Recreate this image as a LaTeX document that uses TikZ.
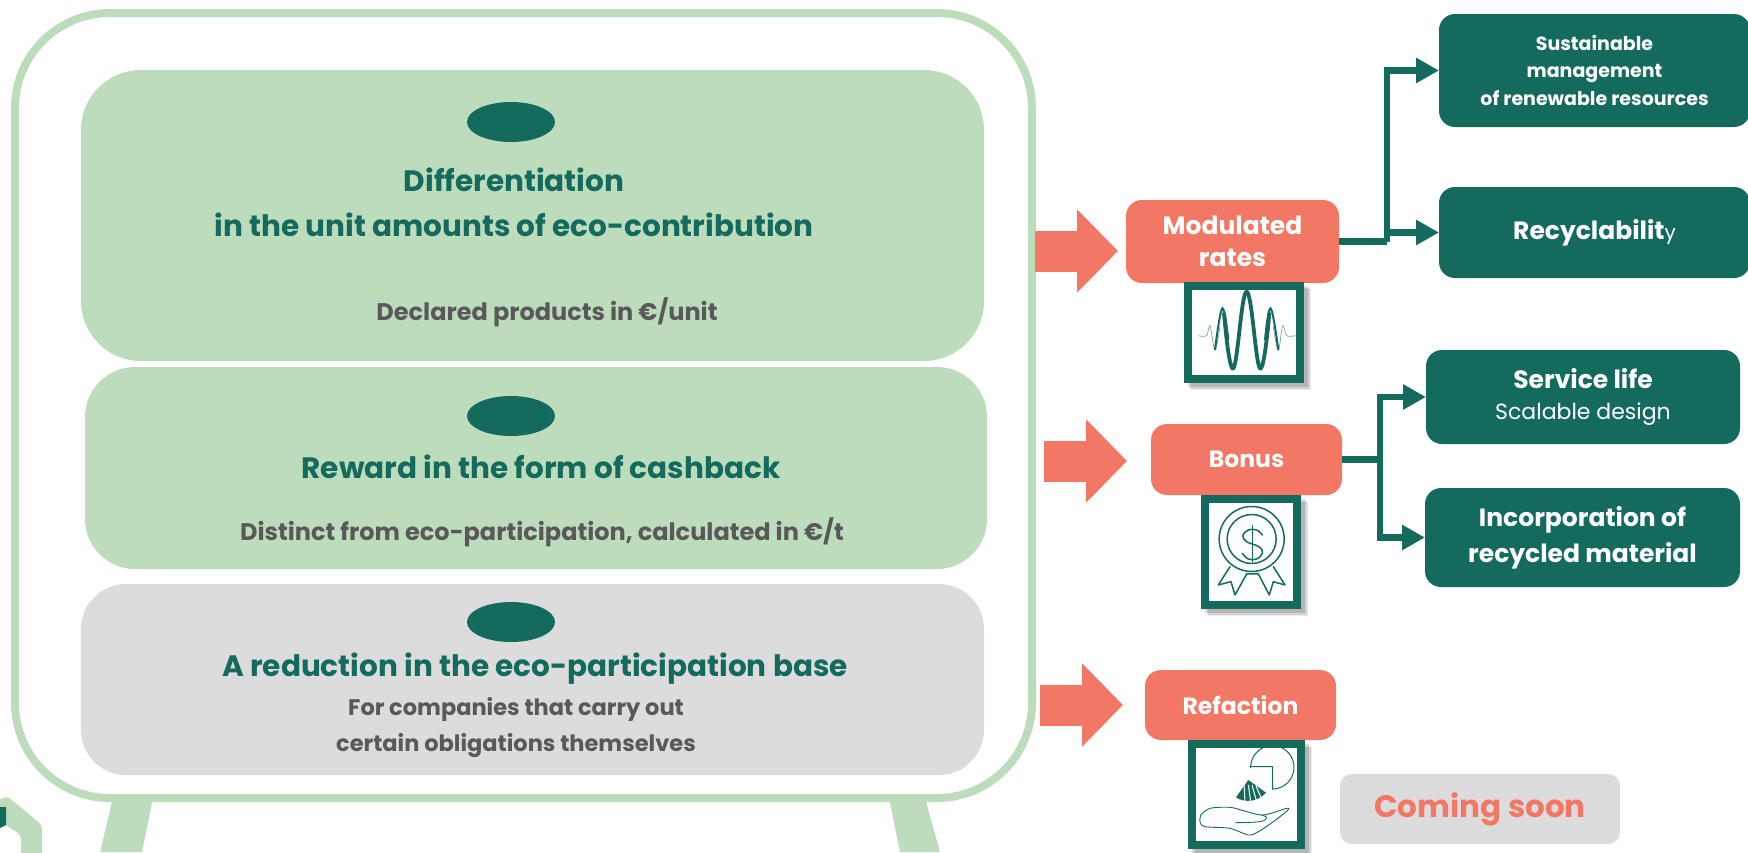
\documentclass[tikz,border=0pt]{standalone}
\usepackage{fontspec}
\setmainfont{Poppins}
\usetikzlibrary{arrows.meta}
\definecolor{teal1}{HTML}{156A5E}
\definecolor{green1}{HTML}{BDDCBC}
\definecolor{gray1}{HTML}{DCDCDC}
\definecolor{orange1}{HTML}{F27765}
\definecolor{txtgray}{HTML}{595959}
\newcommand{\fs}[1]{\fontsize{#1}{#1}\selectfont}
\tikzset{
  box/.style={inner sep=0pt,outer sep=0pt,align=center},
  panelgreen/.style={box,fill=green1},
  panelgray/.style={box,fill=gray1},
  framebox/.style={box,draw=green1,line width=8pt,fill=white,rounded corners=95pt},
  dot/.style={ellipse,fill=teal1,inner sep=0pt,minimum width=88pt,minimum height=40pt},
  head/.style={box,text=teal1,font=\bfseries\fs{29.5}},
  sub/.style={box,text=txtgray,font=\bfseries\fs{24}},
  obox/.style={box,fill=orange1,rounded corners=16pt,text=white,font=\bfseries\fs{23.5}},
  tbox/.style={box,fill=teal1,rounded corners=16pt,text=white,font=\bfseries\fs{23.5}},
  iconbox/.style={box,fill=white,draw=teal1,line width=8pt},
  bigarrow/.style={draw=orange1,line width=41pt,-{Triangle[length=41pt,width=81pt]}},
  conn/.style={draw=teal1,line width=6.5pt,-{Triangle[length=23pt,width=24pt]}},
  connplain/.style={draw=teal1,line width=6.5pt},
  icon/.style={draw=teal1,line width=1.6pt,line join=round,line cap=round},
}
\begin{document}
\begin{tikzpicture}[x=1pt,y=-1pt]
\useasboundingbox (0,0) rectangle (1748,852);
\clip (0,0) rectangle (1748,852);
\fill[white] (0,0) rectangle (1748,852);
% legs
\fill[green1] (113,798) -- (153,798) -- (142,852) -- (100,852) -- cycle;
\fill[green1] (889,798) -- (925,798) -- (940,852) -- (900,852) -- cycle;
% corner decoration
\fill[green1,rounded corners=4pt] (-10,805) -- (7,796) -- (42,825) -- (42,860) -- (21,860) -- (21,835) -- (-10,815) -- cycle;
\fill[teal1] (0,807) -- (6,807) -- (6,825) -- (0,828) -- cycle;
% frame and panels
\node[framebox,minimum width=1017pt,minimum height=785pt] (frame) at (523.5,405.5) {};
\node[panelgreen,rounded corners=60pt,minimum width=903pt,minimum height=291pt] (p1) at (532.5,215.5) {};
\node[panelgreen,rounded corners=50pt,minimum width=902pt,minimum height=202pt] (p2) at (536,468) {};
\node[panelgray,rounded corners=45pt,minimum width=903pt,minimum height=191pt] (p3) at (532.5,679.5) {};
\fill[teal1] (511,122) ellipse [x radius=44pt,y radius=20pt];
\fill[teal1] (511,416) ellipse [x radius=44pt,y radius=20pt];
\fill[teal1] (511,622) ellipse [x radius=44pt,y radius=20pt];
% panel text
\node[head] (t1a) at (514,180) {Differentiation};
\node[head] (t1b) at (514,225) {in the unit amounts of eco-contribution};
\node[sub] (t1c) at (547,312) {Declared products in €/unit};
\node[head] (t2a) at (541,467) {Reward in the form of cashback};
\node[sub] (t2b) at (542,532) {Distinct from eco-participation, calculated in €/t};
\node[head] (t3a) at (535,669) {A reduction in the eco-participation base};
\node[sub,font=\bfseries\fs{22.5}] (t3b) at (516,709) {For companies that carry out};
\node[sub,font=\bfseries\fs{22.5}] (t3c) at (516,746) {certain obligations themselves};
% orange boxes
\node[obox,minimum width=213pt,minimum height=83pt,font=\bfseries\fs{25},align=center] (mod) at (1232.5,241.5) {Modulated\\[7pt]rates};
\node[obox,minimum width=191pt,minimum height=71pt] (bon) at (1246.5,459.5) {Bonus};
\node[obox,minimum width=191pt,minimum height=70pt] (ref) at (1240.5,705) {Refaction};
\node[box,fill=gray1,rounded corners=12pt,minimum width=280pt,minimum height=70pt,text=orange1,font=\bfseries\fs{31}] (soon) at (1480,809) {Coming soon};
% teal boxes
\node[tbox,minimum width=311pt,minimum height=113pt,font=\bfseries\fs{19}] (sus) at (1594.5,70.5) {Sustainable\\[8pt]management\\[7pt]of renewable resources};
\node[tbox,minimum width=311pt,minimum height=91pt,font=\bfseries\fs{25}] (rec) at (1594.5,232.5) {Recyclabilit{\mdseries\fs{20}y}};
\node[tbox,minimum width=314pt,minimum height=94pt,font=\bfseries\fs{25}] (svc) at (1583,397) {Service life\\[6pt]{\mdseries\fs{22}Scalable design}};
\node[tbox,minimum width=315pt,minimum height=99pt,font=\bfseries\fs{25}] (inc) at (1582.5,537.5) {Incorporation of\\[8pt]recycled material};
% block arrows
\coordinate (a1s) at (1035,251); \coordinate (a1e) at (1118,251);
\coordinate (a2s) at (1044,461); \coordinate (a2e) at (1127,461);
\coordinate (a3s) at (1040,705); \coordinate (a3e) at (1123,705);
\draw[bigarrow] (a1s) -- (a1e);
\draw[bigarrow] (a2s) -- (a2e);
\draw[bigarrow] (a3s) -- (a3e);
% connectors
\coordinate (jm) at (1387,241.5);
\coordinate (jb) at (1380,459.5);
\draw[connplain] (mod.east) -- (jm);
\draw[conn] (jm) |- (sus.west);
\draw[conn] (jm) |- (rec.west);
\draw[connplain] (bon.east) -- (jb);
\draw[conn] (jb) |- (svc.west);
\draw[conn] (jb) |- (inc.west);
% icon shadows
\foreach \o/\a in {7/.08,5.5/.1,4/.14}{
  \fill[black,opacity=\a] (1184+\o,282+\o) rectangle (1304+\o,383+\o);
  \fill[black,opacity=\a] (1201+\o,495+\o) rectangle (1301+\o,609+\o);
  \fill[black,opacity=\a] (1188+\o,740+\o) rectangle (1305+\o,849+\o);
}
\node[iconbox,minimum width=112pt,minimum height=93pt] (ic1) at (1244,332.5) {};
\node[iconbox,minimum width=92pt,minimum height=106pt] (ic2) at (1251,552) {};
\node[iconbox,minimum width=109pt,minimum height=101pt] (ic3) at (1246.5,794.5) {};
% wave icon
\begin{scope}[shift={(1020,180)},x=.3333pt,y=-.3333pt]
\draw[teal1!60,line width=.7pt] plot[smooth,tension=.6] coordinates {(535,467)(560,467)(570,437)(585,510)(600,440)};
\draw[teal1!60,line width=.7pt] plot[smooth,tension=.6] coordinates {(760,440)(775,510)(788,437)(800,467)(827,467)};
\draw[teal1,line width=2pt] plot[smooth,tension=.7] coordinates {(585,510)(607,385)(625,480)};
\draw[teal1,line width=2pt] plot[smooth,tension=.7] coordinates {(735,480)(752,385)(775,510)};
\draw[teal1,line width=3.8pt,line cap=round] plot[smooth,tension=.7] coordinates {(612,400)(640,565)(680,335)(720,565)(748,400)};
\end{scope}
% medal icon
\begin{scope}[shift={(1130,470)},x=.3333pt,y=-.3333pt]
\draw[icon,line width=1.5pt] (365,207) circle[radius=32.5pt];
\draw[icon,line width=1.5pt] (365,207) circle[radius=24.5pt];
\draw[icon,line width=1.5pt] (300,290) -- (265,345) -- (303,335) -- (315,375) -- (350,312) -- (385,312) -- (418,375) -- (430,335) -- (465,345) -- (430,290);
\draw[icon,line width=1.5pt] plot[smooth,tension=.7] coordinates {(397,195)(380,180)(355,180)(338,197)(350,215)(367,222)(390,232)(397,250)(380,267)(355,267)(337,250)};
\draw[icon,line width=1.5pt] (367,167) -- (367,275);
\end{scope}
% refaction icon
\begin{scope}[shift={(1130,720)},x=.3333pt,y=-.3333pt]
\draw[icon,line width=1pt] (360,140) -- (428,140) -- (428,208) -- plot[domain=90:-180,samples=50] ({427+65*cos(\x)},{142+65*sin(\x)}) -- cycle;
\fill[teal1] (355,180) -- (318,232) .. controls (345,250) and (385,245) .. (408,218) -- cycle;
\draw[white,line width=1pt] (342,190) -- (345,245);
\draw[white,line width=1pt] (355,195) -- (362,245);
\draw[white,line width=1pt] (366,195) -- (380,245);
\draw[white,line width=1pt] (378,198) -- (396,240);
\draw[icon,line width=.9pt] plot[smooth,tension=.5] coordinates {(212,285)(240,265)(300,262)(340,272)(400,285)(470,265)(472,272)(430,305)(385,335)(355,345)(300,325)(225,320)(210,305)(212,285)};
\draw[icon,line width=.9pt] plot[smooth,tension=.6] coordinates {(318,308)(390,305)(410,293)(395,285)};
\end{scope}
\end{tikzpicture}
\end{document}
